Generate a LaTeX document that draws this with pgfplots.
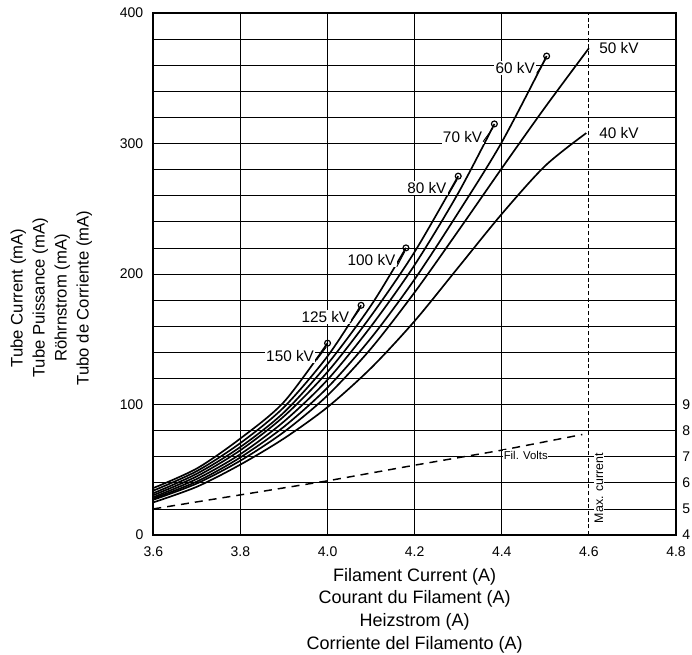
\documentclass[border=0pt]{standalone}
\usepackage{fontspec}
\setmainfont{Liberation Sans}
\usepackage{pgfplots}
\pgfplotsset{compat=1.18}

\begin{document}
\begin{tikzpicture}
\begin{axis}[
    at={(0,0)}, anchor=south west,
    scale only axis, clip=false,
    width=392pt, height=391.5pt,
    xmin=3.6, xmax=4.8, ymin=0, ymax=400,
    xtick={3.6,3.8,4.0,4.2,4.4,4.6,4.8},
    ytick={0,100,200,300,400},
    minor ytick={20,40,...,380},
    ymajorgrids, yminorgrids,
    extra x ticks={3.8,4.0,4.2,4.4},
    extra x tick labels={},
    extra x tick style={xmajorgrids=true},
    major tick length=0pt, minor tick length=0pt,
    grid style={black, line width=0.6pt},
    minor grid style={black, line width=0.6pt},
    axis line style={line width=1.3pt},
    /pgf/number format/assume math mode=true,
    tick label style={font=\fontsize{10.5}{12}\selectfont},
    xticklabel style={yshift=-5pt, /pgf/number format/fixed, /pgf/number format/fixed zerofill, /pgf/number format/precision=1},
    yticklabel style={xshift=-4pt},
    xlabel={Filament Current (A)\\Courant du Filament (A)\\Heizstrom (A)\\Corriente del Filamento (A)},
    xlabel style={align=center, font=\fontsize{13.5}{17}\selectfont, yshift=-2pt},
    ylabel={Tube Current (mA)\\Tube Puissance (mA)\\Röhrnstrom (mA)\\Tubo de Corriente (mA)},
    ylabel style={align=center, font=\fontsize{12.5}{16.5}\selectfont, at={(ticklabel cs:0.454,14pt)}},
    curve/.style={black, line width=1.25pt, smooth, mark=none},
]

% filament current curves, one per tube voltage
\addplot[curve] coordinates {(3.6,36)(3.7,51)(3.8,74)(3.9,102)(4.0,147)};            % 150 kV
\addplot[curve] coordinates {(3.6,34)(3.7,49)(3.8,70.5)(3.9,98)(4.0,137)(4.077,176)}; % 125 kV
\addplot[curve] coordinates {(3.6,32)(3.7,47)(3.8,67.5)(3.9,94)(4.0,131)(4.1,176)(4.18,220)}; % 100 kV
\addplot[curve] coordinates {(3.6,30.5)(3.7,45)(3.8,65)(3.9,91)(4.0,125)(4.1,168)(4.2,217)(4.3,275)}; % 80 kV
\addplot[curve] coordinates {(3.6,29)(3.7,43)(3.8,62)(3.9,87)(4.0,119)(4.1,160)(4.2,207)(4.3,262)(4.383,315)}; % 70 kV
\addplot[curve] coordinates {(3.6,28)(3.7,41)(3.8,59.5)(3.9,83)(4.0,113)(4.1,151)(4.2,196)(4.3,247)(4.4,301)(4.503,367)}; % 60 kV
\addplot[curve] coordinates {(3.6,27)(3.7,39.5)(3.8,57)(3.9,79)(4.0,107)(4.1,143)(4.2,186)(4.3,233)(4.4,281)(4.5,328)(4.6,373)}; % 50 kV
\addplot[curve] coordinates {(3.6,25)(3.7,37)(3.8,54)(3.9,74)(4.0,98)(4.1,128)(4.2,164)(4.3,205)(4.4,246)(4.5,283)(4.594,308)}; % 40 kV

% end markers
\addplot[only marks, mark=o, mark size=2.2pt, line width=0.9pt, black] coordinates {
    (4.0,147) (4.077,176) (4.18,220) (4.3,275) (4.383,315) (4.503,367)};

% filament volts
\addplot[black, line width=1.1pt, dash pattern=on 6pt off 4.5pt] coordinates {(3.6,20)(4.0,41.5)(4.2,53.5)(4.4,65)(4.585,77)};

% max current
\addplot[black, line width=0.8pt, dash pattern=on 3pt off 2pt] coordinates {(4.6,0)(4.6,400)};

% curve labels with leaders
\tikzset{kv/.style={fill=white, inner sep=1pt, font=\fontsize{11.5}{12}\selectfont}}
\node[kv] at (axis cs:3.914,137.2) {150 kV};
\draw[line width=0.7pt] (axis cs:3.975,134.1) -- (axis cs:3.997,144);
\node[kv] at (axis cs:3.995,166.8) {125 kV};
\draw[line width=0.7pt] (axis cs:4.051,162.2) -- (axis cs:4.074,173);
\node[kv] at (axis cs:4.101,210.7) {100 kV};
\draw[line width=0.7pt] (axis cs:4.159,205.6) -- (axis cs:4.177,217);
\node[kv] at (axis cs:4.228,265.7) {80 kV};
\draw[line width=0.7pt] (axis cs:4.277,260.5) -- (axis cs:4.297,272);
\node[kv] at (axis cs:4.310,305.2) {70 kV};
\draw[line width=0.7pt] (axis cs:4.357,301.4) -- (axis cs:4.380,312);
\node[kv] at (axis cs:4.431,357.6) {60 kV};
\draw[line width=0.7pt] (axis cs:4.480,353.8) -- (axis cs:4.500,364);
\node[kv] at (axis cs:4.669,373) {50 kV};
\node[kv] at (axis cs:4.669,307.8) {40 kV};

\node[fill=white, inner sep=0.5pt, font=\fontsize{8.5}{10}\selectfont] at (axis cs:4.455,61.3) {Fil. Volts};
\node[fill=white, inner sep=0.5pt, rotate=90, font=\fontsize{9.3}{10}\selectfont] at (axis cs:4.623,36) {Max. current};

% right-hand filament volts scale
\tikzset{rv/.style={anchor=west, inner sep=0pt, xshift=4.5pt, font=\fontsize{10.5}{12}\selectfont}}
\node[rv] at (axis cs:4.8,0) {4};
\node[rv] at (axis cs:4.8,20) {5};
\node[rv] at (axis cs:4.8,40) {6};
\node[rv] at (axis cs:4.8,60) {7};
\node[rv] at (axis cs:4.8,80) {8};
\node[rv] at (axis cs:4.8,100) {9};
\end{axis}
\pgfresetboundingbox
\useasboundingbox (-115pt,-89.25pt) rectangle (404pt,401.25pt);
\end{tikzpicture}
\end{document}
